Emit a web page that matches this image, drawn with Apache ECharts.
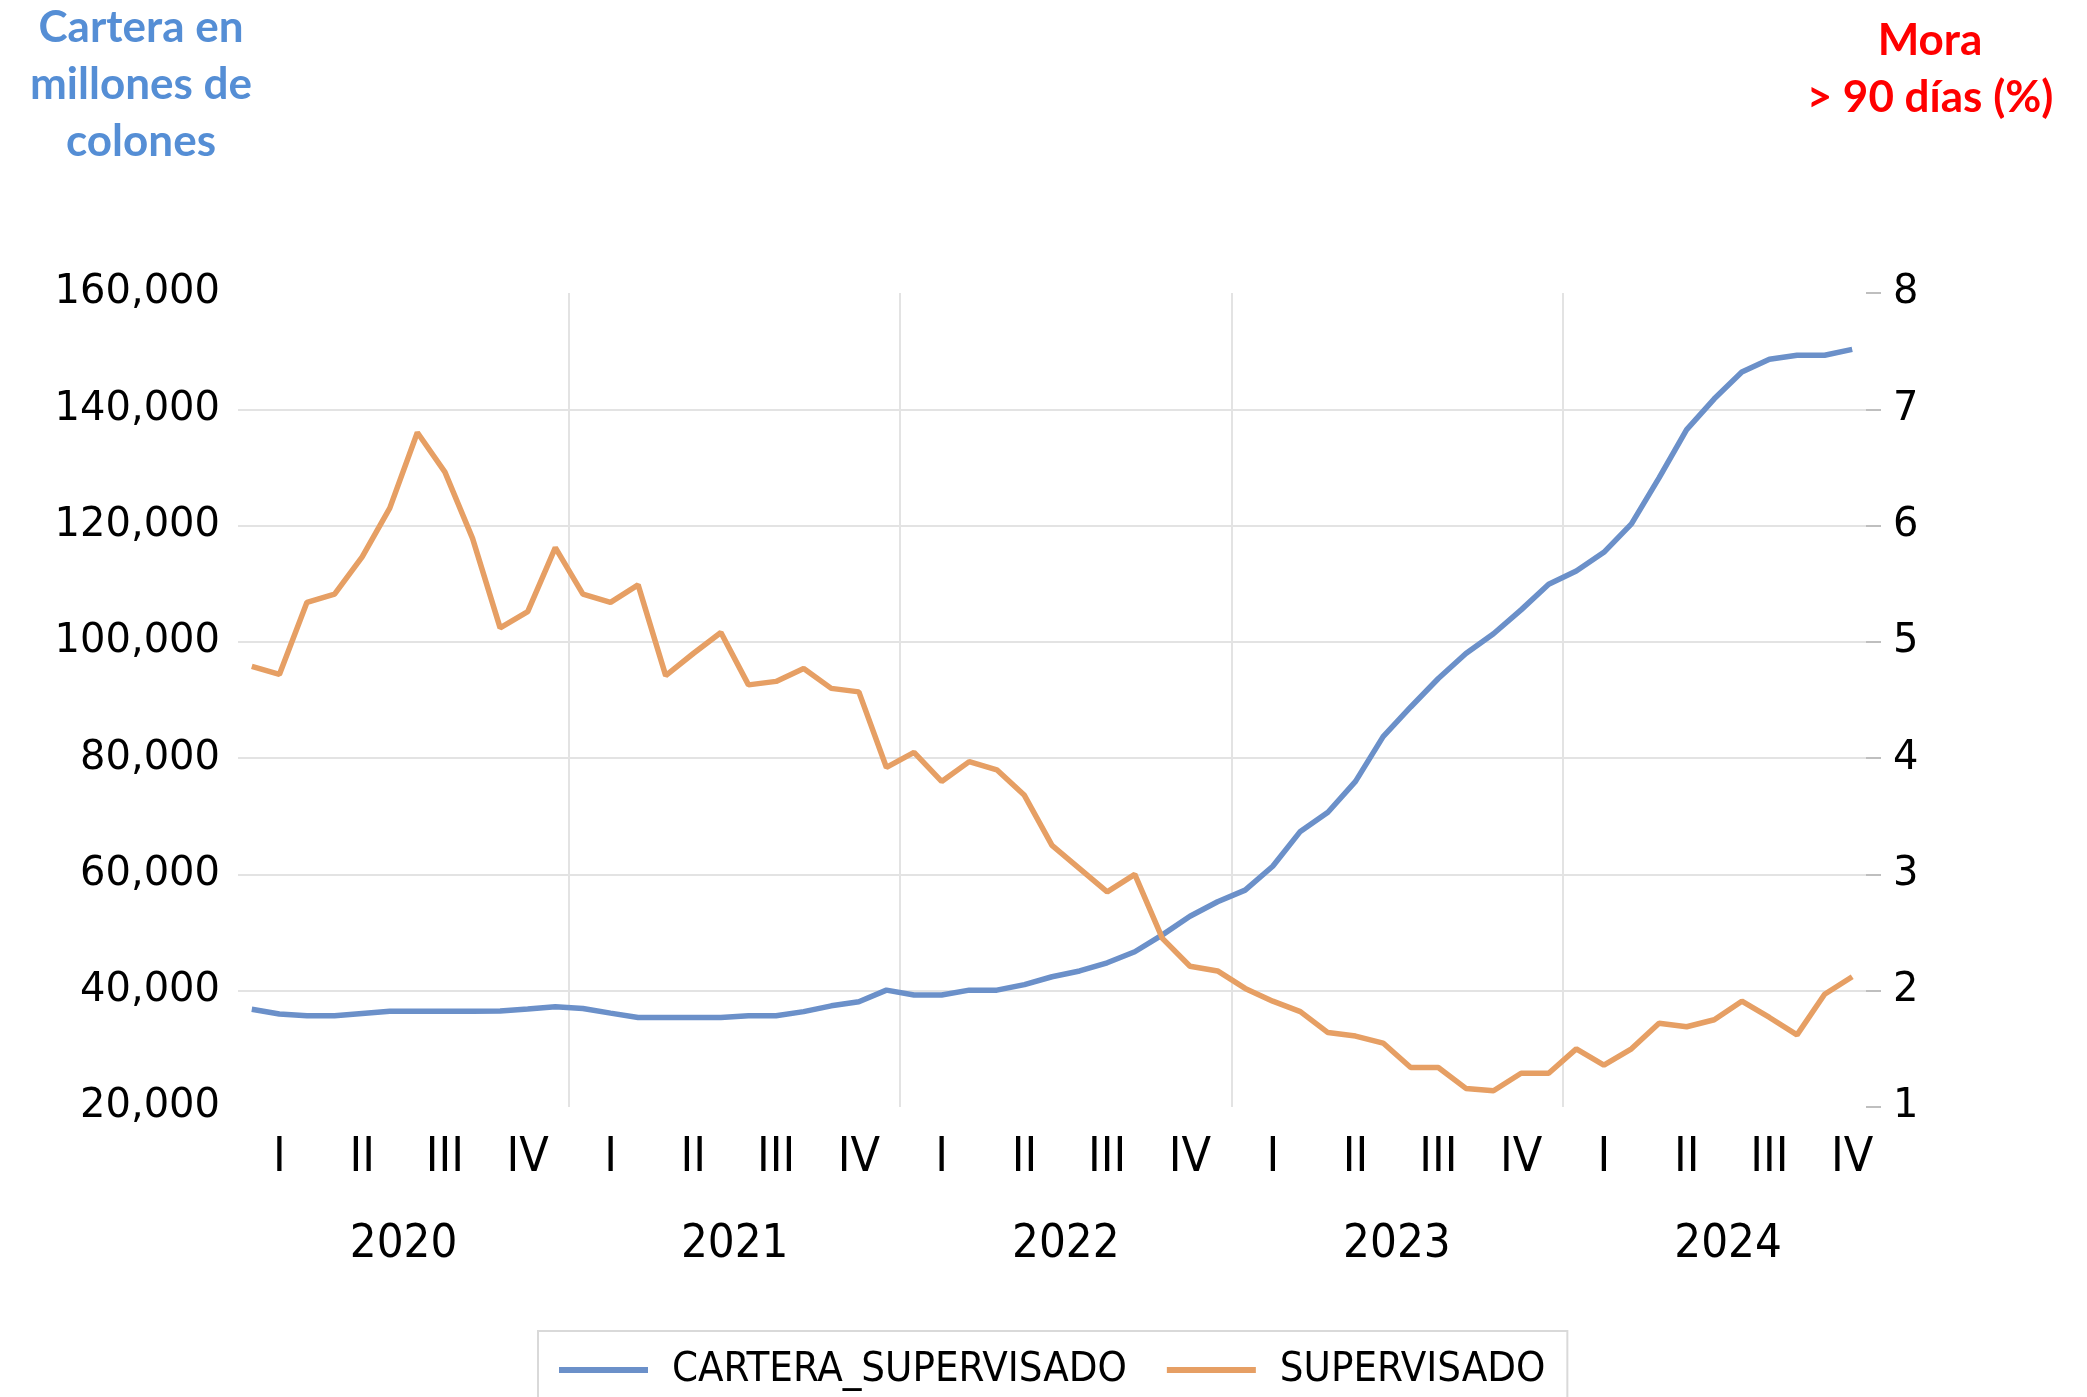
<!DOCTYPE html>
<html>
<head>
<meta charset="utf-8">
<script src="https://cdn.jsdelivr.net/npm/echarts@6/dist/echarts.min.js"></script>
<style>
  html, body { margin: 0; padding: 0; background: #fff; }
  #chart { width: 2087px; height: 1397px; }
</style>
</head>
<body>
<div id="chart"></div>
<script>
// ---- data (monthly, Jan 2020 - Nov 2024) ----
const years = ['2020', '2021', '2022', '2023', '2024'];
const quarterLabels = ['I', 'II', 'III', 'IV'];
const monthCount = 59;

const cartera = [
  36800, 36000, 35700, 35700, 36100, 36450, 36450, 36450, 36450, 36500, 36850, 37250,
  36950, 36150, 35400, 35400, 35400, 35400, 35700, 35700, 36400, 37400, 38100, 40100,
  39250, 39250, 40100, 40100, 41050, 42400, 43400, 44800, 46700, 49600, 52800, 55300,
  57300, 61400, 67400, 70700, 76000, 83700, 88800, 93700, 98000, 101400, 105500, 109900,
  112200, 115400, 120300, 128200, 136500, 141800, 146400, 148600, 149300, 149300, 150300
];
const mora = [
  4.79, 4.72, 5.34, 5.41, 5.73, 6.15, 6.80, 6.46, 5.89, 5.12, 5.26, 5.81,
  5.41, 5.34, 5.49, 4.71, 4.90, 5.08, 4.63, 4.66, 4.77, 4.60, 4.57, 3.92,
  4.05, 3.80, 3.97, 3.90, 3.68, 3.25, 3.05, 2.85, 3.00, 2.45, 2.21, 2.17,
  2.02, 1.91, 1.82, 1.64, 1.61, 1.55, 1.34, 1.34, 1.16, 1.14, 1.29, 1.29,
  1.50, 1.36, 1.50, 1.72, 1.69, 1.75, 1.91, 1.77, 1.62, 1.97, 2.12
];

// ---- derived axis data ----
const categories = [];
for (let i = 0; i < monthCount; i++) {
  categories.push(years[Math.floor(i / 12)] + '-' + String(i % 12 + 1).padStart(2, '0'));
}
// half-month slots for the grouping labels (0..118 => 0..59 months)
const halfSlots = monthCount * 2 + 1;
const quarterAxis = new Array(halfSlots).fill('');
const yearAxis = new Array(halfSlots).fill('');
for (let q = 0; q < Math.ceil(monthCount / 3); q++) {
  quarterAxis[3 + 6 * q] = quarterLabels[q % 4];
}
years.forEach((y, i) => { yearAxis[12 + 24 * i] = y; });

const narrow = '"Liberation Sans Narrow", "DejaVu Sans Condensed", "Arial Narrow", sans-serif';
const wide = '"DejaVu Sans", Verdana, sans-serif';
const gridColor = '#E3E3E3';

const chart = echarts.init(document.getElementById('chart'), null, { renderer: 'canvas' });
chart.setOption({
  animation: false,
  backgroundColor: '#ffffff',
  grid: { left: 238, right: 221, top: 293, bottom: 290, containLabel: false },
  legend: {
    left: 538, top: 1331,
    padding: [18, 22, 80, 21],
    borderColor: '#D9D9D9', borderWidth: 2,
    itemWidth: 89, itemHeight: 6, itemGap: 40,
    icon: 'rect',
    textStyle: { fontFamily: narrow, fontSize: 41.5, color: '#000', padding: [0, 0, 0, 19] },
    data: ['CARTERA_SUPERVISADO', 'SUPERVISADO']
  },
  graphic: [
    { type: 'text', x: 141, y: -1,
      style: { text: 'Cartera en\nmillones de\ncolones', fill: '#558ED5', font: 'bold 44px Lato, "Open Sans", sans-serif',
               textAlign: 'center', textVerticalAlign: 'top', lineHeight: 57 } },
    { type: 'text', x: 1930, y: 12,
      style: { text: 'Mora\n> 90 días (%)', fill: '#FF0000', font: 'bold 44px Lato, "Open Sans", sans-serif',
               textAlign: 'center', textVerticalAlign: 'top', lineHeight: 57 } }
  ],
  xAxis: [
    {
      type: 'category', data: categories, boundaryGap: true,
      axisLine: { show: false }, axisTick: { show: false }, axisLabel: { show: false },
      splitLine: { show: false }
    },
    {
      type: 'category', data: quarterAxis, boundaryGap: false, position: 'bottom',
      axisLine: { show: false }, axisTick: { show: false },
      splitLine: { show: true, interval: (k) => k > 0 && k < halfSlots - 1 && k % 24 === 0,
                   lineStyle: { color: gridColor, width: 2 } },
      axisLabel: { interval: 0, margin: 28, fontFamily: narrow, fontSize: 48, lineHeight: 48, color: '#000' }
    },
    {
      type: 'category', data: yearAxis, boundaryGap: false, position: 'bottom',
      axisLine: { show: false }, axisTick: { show: false }, splitLine: { show: false },
      axisLabel: { interval: 0, margin: 114, fontFamily: narrow, fontSize: 47, lineHeight: 47, color: '#000' }
    }
  ],
  yAxis: [
    {
      type: 'value', position: 'left', min: 20000, max: 160000, interval: 20000,
      axisLine: { show: false }, axisTick: { show: false },
      axisLabel: { margin: 18, fontFamily: wide, fontSize: 40, color: '#000', padding: [8, 0, 0, 0],
                   formatter: (v) => v.toLocaleString('en-US') },
      splitLine: { show: true, showMinLine: false, showMaxLine: false, lineStyle: { color: gridColor, width: 2 } }
    },
    {
      type: 'value', position: 'right', min: 1, max: 8, interval: 1,
      axisLine: { show: false },
      axisTick: { show: true, length: 15, lineStyle: { color: '#BFBFBF', width: 2 } },
      axisLabel: { margin: 27, fontFamily: wide, fontSize: 40, color: '#000', padding: [8, 0, 0, 0] },
      splitLine: { show: false }
    }
  ],
  series: [
    {
      name: 'CARTERA_SUPERVISADO', type: 'line', xAxisIndex: 0, yAxisIndex: 0,
      data: cartera, showSymbol: false, symbol: 'none',
      lineStyle: { color: '#6B90C9', width: 5.5 }, itemStyle: { color: '#6B90C9' }
    },
    {
      name: 'SUPERVISADO', type: 'line', xAxisIndex: 0, yAxisIndex: 1,
      data: mora, showSymbol: false, symbol: 'none',
      lineStyle: { color: '#E69F64', width: 5.5 }, itemStyle: { color: '#E69F64' }
    }
  ]
});
</script>
</body>
</html>
